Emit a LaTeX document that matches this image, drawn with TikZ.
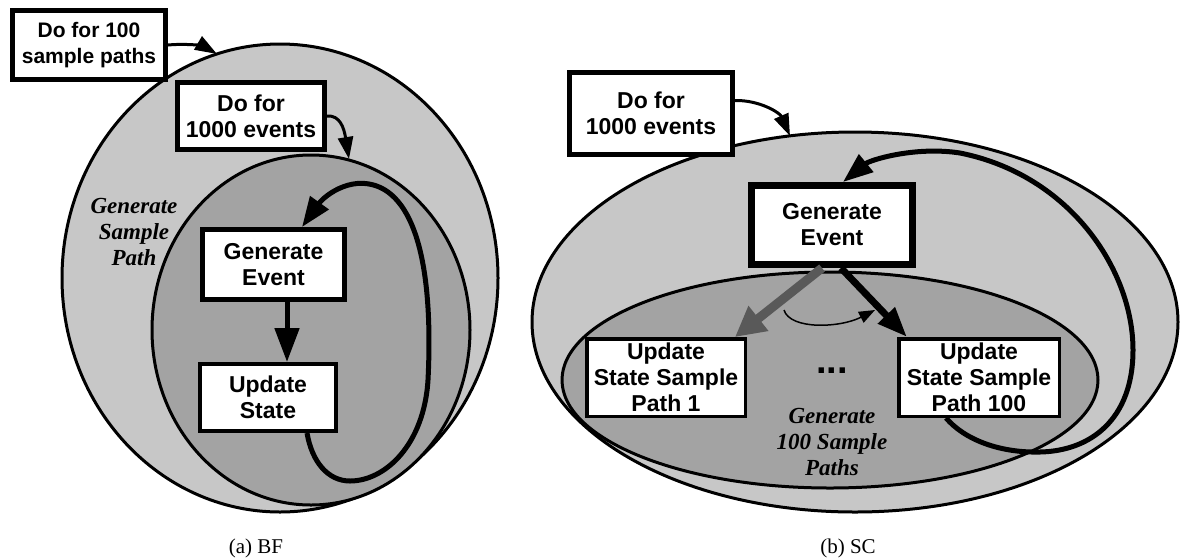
\documentclass[tikz,border=0pt]{standalone}
\usepackage{fontspec}
\setmainfont{Liberation Serif}
\newfontfamily\hv{Liberation Sans}
\usetikzlibrary{arrows.meta,calc}

\begin{document}
\begin{tikzpicture}[x=1pt,y=-1pt,
  box/.style={draw,fill=white,line width=#1,align=center,inner sep=1pt,
    font=\hv\bfseries\fontsize{23}{26}\selectfont},
  box/.default=4pt,
  region/.style={draw,line width=3pt},
  outerfill/.style={region,fill=black!22},
  innerfill/.style={region,fill=black!36},
  tag/.style={align=center,font=\bfseries\itshape\fontsize{23}{26}\selectfont},
  caption/.style={anchor=base,font=\fontsize{21}{24}\selectfont},
  smallarr/.style={line width=3pt,-{Triangle[length=22pt,width=15pt]}},
  bigarr/.style={line width=5pt,-{Triangle[length=34pt,width=24pt]}},
  looparr/.style={line width=5pt,-{Triangle[length=30pt,width=22pt]}},
  thinarr/.style={line width=1.5pt,-{Triangle[length=16pt,width=12pt]}},
]
\fill[white] (0,0) rectangle (1181,558);
\useasboundingbox (0,0) rectangle (1181,558);

% ---------- (a) BF ----------
\draw[outerfill] (280,278) ellipse [x radius=218pt, y radius=234pt];
\draw[innerfill] (311,330) ellipse [x radius=159pt, y radius=175pt];
\node[tag] (gsp) at (134,232) {Generate\\Sample\\Path};

\node[box=5pt,minimum width=153pt,minimum height=69pt,
  font=\hv\bfseries\fontsize{21}{26}\selectfont] (dfa) at (89,45) {Do for 100\\sample paths};
\node[box=5pt,minimum width=147pt,minimum height=67pt] (dfb) at (251,116) {Do for\\1000 events};
\node[box=5pt,minimum width=142pt,minimum height=70pt] (gel) at (273.5,264.5) {Generate\\Event};
\node[box=4pt,minimum width=136pt,minimum height=67pt] (usl) at (268,397.5) {Update\\State};

\coordinate (tA) at (217,54);
\coordinate (tB) at (349,159);
\draw[smallarr] (dfa.east) .. controls (190,43) and (205,47) .. (tA);
\draw[smallarr] (dfb.east) .. controls (340,115) and (344,128) .. (tB);
\draw[bigarr] ($(gel.south)+(13.5,0)$) coordinate (g1) -- (g1 |- usl.north);
\draw[looparr] ($(usl.south)+(39,0)$)
  .. controls (312,462) and (328,481) .. (350,481)
  .. controls (385,481) and (424,445) .. (428,380)
  .. controls (432,300) and (425,215) .. (385,190)
  .. controls (355,172) and (325,195) .. ($(gel.north)+(28.5,0)$);

\node[caption] (capa) at (256,553) {(a) BF};

% ---------- (b) SC ----------
\draw[outerfill] (855,322) ellipse [x radius=323pt, y radius=190pt];
\draw[innerfill] (830,380) ellipse [x radius=268pt, y radius=108pt];
\node[tag] (g100) at (832,442) {Generate\\100 Sample\\Paths};
\node[inner sep=0pt,font=\hv\bfseries\fontsize{38}{40}\selectfont] (dots) at (832,371) {...};

\node[box=5pt,minimum width=163pt,minimum height=82pt] (dfr) at (651,113.5) {Do for\\1000 events};
\node[box=7pt,minimum width=161pt,minimum height=79pt] (ger) at (832,225) {Generate\\Event};
\node[box=3.5pt,minimum width=158.5pt,minimum height=77.5pt] (p1) at (666,377.5) {Update\\State Sample\\Path 1};
\node[box=3.5pt,minimum width=160.5pt,minimum height=77.5pt] (p100) at (979,377.5) {Update\\State Sample\\Path 100};

\coordinate (tC) at (790,136);
\draw[smallarr] ($(dfr.east)+(0,-13)$) .. controls (760,100) and (780,113) .. (tC);
\draw[line width=9pt,black!65,-{Triangle[length=30pt,width=30pt]}]
  ($(ger.south)+(-10,0)$) -- ($(p1.north east)+(-12,0)$);
\draw[line width=7pt,-{Triangle[length=30pt,width=22pt]}]
  ($(ger.south)+(9,0)$) -- ($(p100.north west)+(10,0)$);
\coordinate (c1) at (784,310);
\coordinate (c2) at (875,310);
\draw[thinarr] (c1) .. controls (790,330) and (840,328) .. (c2);
\draw[looparr] ($(p100.south)+(-33,0)$)
  .. controls (965,440) and (1000,453) .. (1040,452)
  .. controls (1090,451) and (1133,420) .. (1133,350)
  .. controls (1133,270) and (1070,175) .. (960,153)
  .. controls (915,146) and (870,160) .. ($(ger.north)+(11,0)$);

\node[caption] (capb) at (848,553) {(b) SC};
\end{tikzpicture}
\end{document}
